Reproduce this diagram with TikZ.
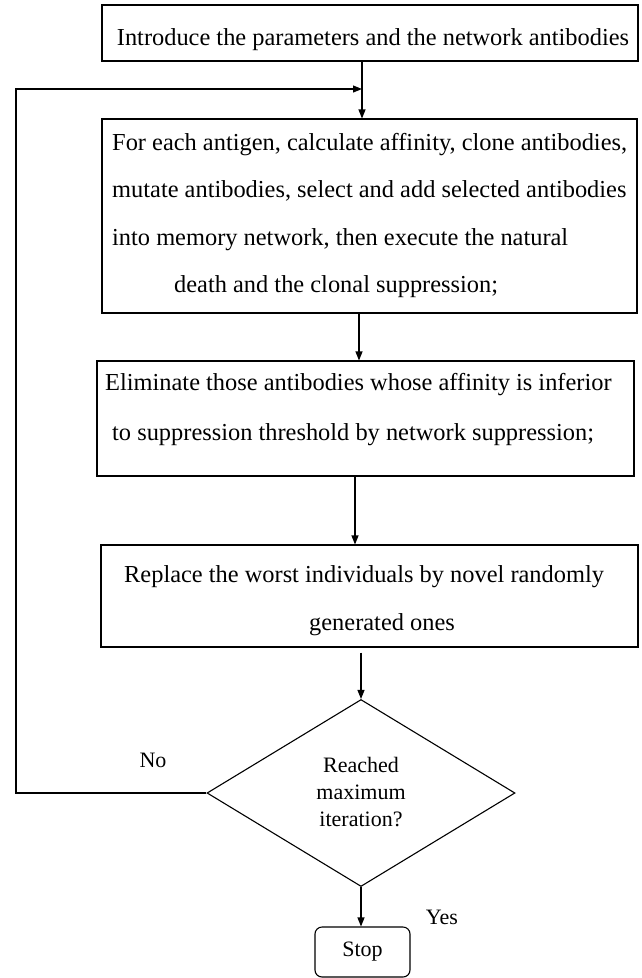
\documentclass[tikz,border=0pt]{standalone}
\usepackage{fontspec}
\setmainfont{Liberation Serif}
\usetikzlibrary{shapes.geometric,arrows.meta}
\begin{document}
\begin{tikzpicture}[x=1pt,y=-1pt,
  box/.style={draw, line width=1.1pt, inner sep=0pt},
  txt/.style={inner sep=0pt, font=\fontsize{24.4}{29}\selectfont},
  small/.style={inner sep=0pt, font=\fontsize{22}{26}\selectfont},
  arr/.style={line width=1.1pt, -{Triangle[length=9pt,width=7pt]}},
  conn/.style={line width=1.1pt}]
\useasboundingbox (0,0) rectangle (642,978);

% boxes
\node[box, minimum width=536pt, minimum height=56pt] (b1) at (370,33) {};
\node[box, minimum width=535pt, minimum height=194pt] (b2) at (369.5,216) {};
\node[box, minimum width=537pt, minimum height=115pt] (b3) at (365.5,418.5) {};
\node[box, minimum width=537pt, minimum height=102pt] (b4) at (369.5,596) {};
\node[box, diamond, minimum width=308pt, minimum height=187pt, shape aspect=1.647] (d) at (361,793) {};
\node[box, rounded corners=7pt, minimum width=95pt, minimum height=50pt, small] (stop) at (362.5,952) {Stop};

% texts
\node[txt, anchor=base] (t1) at (373,45) {Introduce the parameters and the network antibodies};
\node[txt, anchor=base west] (t21) at (112,150) {For each antigen, calculate affinity, clone antibodies,};
\node[txt, anchor=base west] (t22) at (112,197) {mutate antibodies, select and add selected antibodies};
\node[txt, anchor=base west] (t23) at (112,245) {into memory network, then execute the natural};
\node[txt, anchor=base west] (t24) at (174,292) {death and the clonal suppression;};
\node[txt, anchor=base west] (t31) at (105,390) {Eliminate those antibodies whose affinity is inferior};
\node[txt, anchor=base west] (t32) at (112,440) {to suppression threshold by network suppression;};
\node[txt, anchor=base west] (t41) at (124,582) {Replace the worst individuals by novel randomly};
\node[txt, anchor=base west] (t42) at (309,630) {generated ones};
\node[small, anchor=base] (q1) at (361,772) {Reached};
\node[small, anchor=base] (q2) at (361,799) {maximum};
\node[small, anchor=base] (q3) at (361,826) {iteration?};
\node[small, anchor=base] (no) at (153,767) {No};
\node[small, anchor=base] (yes) at (442,924) {Yes};

% connector helpers
\coordinate (m) at (362,89);
\coordinate (c2) at (359,0);
\coordinate (c3) at (355,0);
\coordinate (c4) at (361,0);
\coordinate (fb) at (16,793);

% connectors
\draw[arr] (b1.south -| m) -- (b2.north -| m);
\draw[arr] (b2.south -| c2) -- (b3.north -| c2);
\draw[arr] (b3.south -| c3) -- (b4.north -| c3);
\draw[arr] ([yshift=-5pt]b4.south -| c4) -- (d.north);
\draw[arr] (d.south) -- (stop.north -| d.south);
\draw[arr] (d.west) -- (fb) |- (m);
\end{tikzpicture}
\end{document}
